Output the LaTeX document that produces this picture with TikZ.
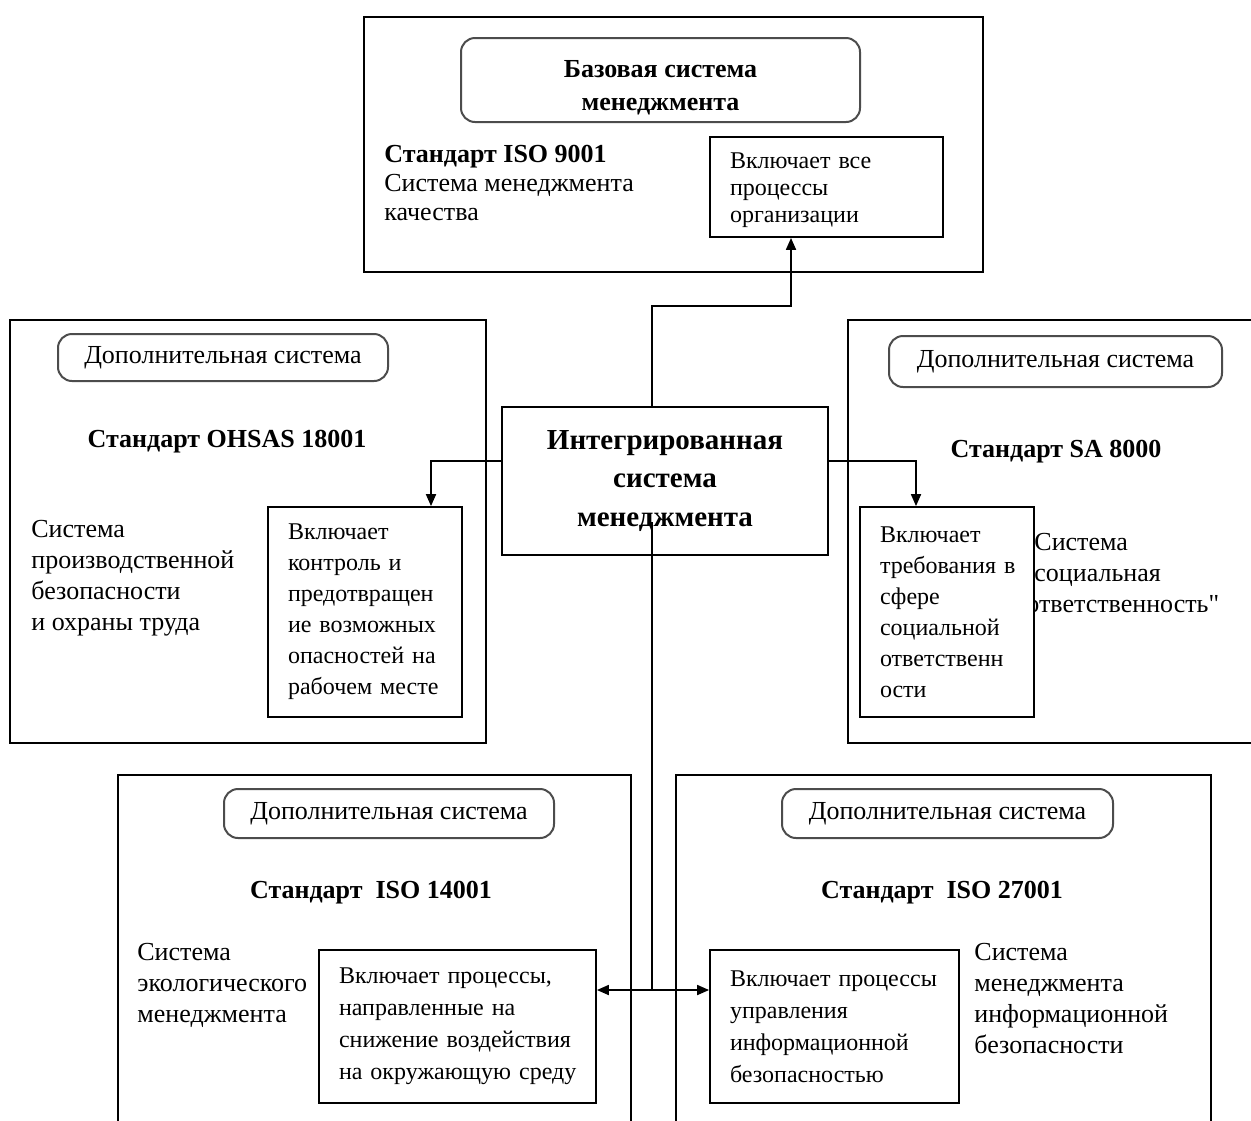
\documentclass[tikz,border=0pt]{standalone}
\usepackage{fontspec}
\setmainfont{Liberation Serif}
\usetikzlibrary{arrows.meta}

\tikzset{
  frame/.style={draw, line width=1pt},
  tag/.style={draw=black!70, line width=1pt, rounded corners=7pt, align=center, font=\fontsize{13}{16}\selectfont},
  inbox/.style={draw, fill=white, line width=0.9pt, align=left, inner xsep=10pt, font=\fontsize{12}{15.5}\selectfont},
  body/.style={anchor=north west, inner sep=0pt, align=left, font=\fontsize{13}{15.5}\selectfont},
  head/.style={anchor=base, inner sep=0pt, font=\bfseries\fontsize{13}{16}\selectfont},
  link/.style={line width=0.9pt},
  arr/.style={link, -{Triangle[width=5pt,length=6pt]}},
}

\begin{document}
\begin{tikzpicture}[x=0.5pt, y=-0.5pt]
\useasboundingbox[fill=white] (0,0) rectangle (1251,1120);

% base system
\draw[frame] (364,17) rectangle (983,272);
\node[tag, minimum width=199.5pt, minimum height=42pt, font=\bfseries\fontsize{13}{16.5}\selectfont] (base) at (660.5,80) {\rule{0pt}{16pt}Базовая система\\менеджмента};
\node[body, font=\fontsize{13}{14.5}\selectfont] (iso9tx) at (384,145) {\textbf{Стандарт ISO 9001}\\Система менеджмента\\качества};
\node[inbox, text width=96.5pt, minimum height=50pt, font=\fontsize{12}{13.5}\selectfont] (topin) at (826.5,187) {\rule{0pt}{11pt}Включает~все\\процессы\\организации};

% OHSAS 18001
\draw[frame] (10,320) rectangle (486,743);
\node[tag, minimum width=165pt, minimum height=23.5pt] (tagl) at (223,357.5) {Дополнительная система};
\node[head] (ohsas) at (227,447) {Стандарт OHSAS 18001};
\node[body] (ohsastx) at (31,520) {Система\\производственной\\безопасности\\и охраны труда};
\node[inbox, text width=77pt, minimum height=105pt] (leftin) at (365,612) {Включает\\контроль~и\\предотвращен\\ие~возможных\\опасностей~на\\рабочем~месте};

% SA 8000
\draw[frame] (848,320) rectangle (1262,743);
\node[tag, minimum width=166.5pt, minimum height=25.5pt] (tagr) at (1055.5,361.5) {Дополнительная система};
\node[head] (sa) at (1056,457) {Стандарт SA 8000};
\node[body] (satx) at (1034,533) {Система\\социальная\\\hspace*{-4pt}ответственность\XeTeXglyph\XeTeXcharglyph"22\relax};
\node[inbox, text width=67pt, minimum height=105pt] (rightin) at (947,612) {Включает\\требования~в\\сфере\\социальной\\ответственн\\ости};

% ISO 14001
\draw[frame] (118,775) rectangle (631,1130);
\node[tag, minimum width=165pt, minimum height=24.5pt] (tagbl) at (389,813.5) {Дополнительная система};
\node[head] (iso14) at (371,898) {Стандарт~ ISO 14001};
\node[body] (iso14tx) at (137,943) {Система\\экологического\\менеджмента};
\node[inbox, text width=118.5pt, minimum height=76.5pt, font=\fontsize{12}{16}\selectfont] (blin) at (457.5,1026.5) {Включает~процессы,\\направленные~на\\снижение~воздействия\\на~окружающую~среду};

% ISO 27001
\draw[frame] (676,775) rectangle (1211,1130);
\node[tag, minimum width=165.5pt, minimum height=24.5pt] (tagbr) at (947.5,813.5) {Дополнительная система};
\node[head] (iso27) at (942,898) {Стандарт~ ISO 27001};
\node[body] (iso27tx) at (974,943) {Система\\менеджмента\\информационной\\безопасности};
\node[inbox, text width=104.5pt, minimum height=76.5pt, font=\fontsize{12}{16}\selectfont] (brin) at (834.5,1026.5) {Включает~процессы\\управления\\информационной\\безопасностью};

% integrated system
\node[draw, fill=white, line width=1pt, minimum width=163pt, minimum height=74pt, align=center, font=\bfseries\fontsize{14.5}{19.25}\selectfont] (isu) at (665,481) {Интегрированная\\система\\менеджмента};

% links
\coordinate (hub) at (652,990);
\draw[arr] ([xshift=-6.5pt]isu.north) -- ++(0,-100) -| ([xshift=-17.75pt]topin.south);
\draw[arr] ([yshift=10pt]isu.west) -| ([xshift=33pt]leftin.north);
\draw[arr] ([yshift=10pt]isu.east) -| ([xshift=-15.5pt]rightin.north);
\draw[link] ([xshift=-6.5pt,yshift=-20.5pt]isu.center) -- (hub);
\draw[link, {Triangle[width=5pt,length=6pt]}-{Triangle[width=5pt,length=6pt]}] (blin.east |- hub) -- (brin.west |- hub);
\end{tikzpicture}
\end{document}
